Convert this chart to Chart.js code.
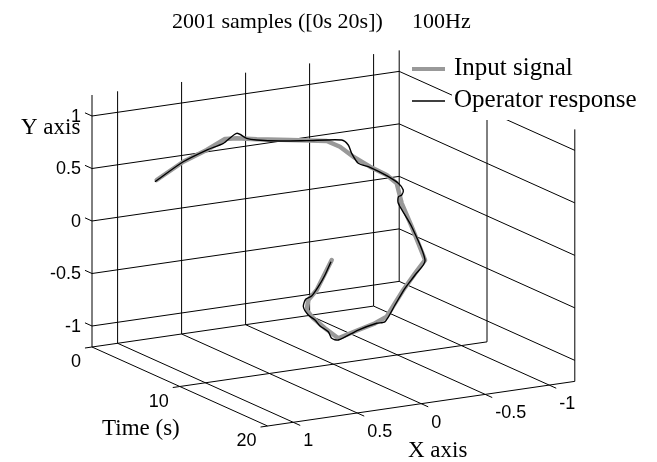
<!DOCTYPE html>
<html>
<head>
<meta charset="UTF-8" />
<title>2001 samples</title>
<script src="https://cdn.jsdelivr.net/npm/chart.js"></script>
<style>
  body { margin: 0; background: #ffffff; }
  canvas { display: block; }
</style>
</head>
<body>
<canvas id="myChart" width="657" height="462"></canvas>
<script>
// input signal: time (s), X, Y
const inT = [0, 0.8, 1.5, 2.0, 2.4, 3.0, 4.0, 5.0, 5.5, 6.0, 6.6, 7.1, 7.5, 8.0, 8.8, 10.0,
  10.7, 11.5, 12.1, 12.7, 13.3, 14.0, 15.0, 15.7, 16.4, 16.9, 17.5, 18.2, 19.0, 20.0];
const inX = [0.695, 0.542, 0.407, 0.298, 0.234, 0.119, -0.073, -0.291, -0.360, -0.430, -0.519, -0.615, -0.666, -0.671, -0.694, -0.716,
  -0.590, -0.443, -0.337, -0.231, -0.099, 0.080, 0.305, 0.457, 0.596, 0.682, 0.711, 0.693, 0.696, 0.699];
const inY = [0.301, 0.478, 0.592, 0.696, 0.707, 0.700, 0.697, 0.686, 0.638, 0.549, 0.461, 0.384, 0.311, 0.138, -0.059, -0.335,
  -0.413, -0.516, -0.601, -0.687, -0.704, -0.710, -0.711, -0.563, -0.417, -0.304, -0.181, -0.062, 0.095, 0.292];

// operator response
const outT = [0, 0.8, 1.5, 2.0, 2.4, 2.7, 3.0, 3.7, 4.4, 5.4, 5.7, 5.9, 6.2, 6.6, 7.1, 7.45, 7.65, 7.8, 7.85, 8.0,
  8.8, 10.0, 10.7, 11.4, 12.1, 12.8, 13.2, 14.0, 15.0, 15.3, 15.5, 15.9, 16.3, 16.7, 17.0, 17.4, 17.8, 18.4, 19.1, 20.0];
const outX = [0.708, 0.542, 0.407, 0.311, 0.234, 0.177, 0.119, -0.015, -0.176, -0.380, -0.411, -0.424, -0.455, -0.519, -0.615, -0.682, -0.707, -0.685, -0.655, -0.644,
  -0.694, -0.716, -0.590, -0.463, -0.337, -0.211, -0.119, 0.080, 0.305, 0.377, 0.417, 0.509, 0.576, 0.656, 0.715, 0.724, 0.705, 0.694, 0.690, 0.705];
const outY = [0.287, 0.478, 0.592, 0.658, 0.754, 0.708, 0.693, 0.686, 0.687, 0.695, 0.653, 0.579, 0.490, 0.455, 0.377, 0.306, 0.245, 0.207, 0.198, 0.143,
  -0.059, -0.341, -0.429, -0.507, -0.617, -0.728, -0.711, -0.710, -0.728, -0.687, -0.610, -0.524, -0.440, -0.363, -0.263, -0.175, -0.133, -0.023, 0.114, 0.277];

const timeTicks = [0, 10, 20];
const xTicks = [1, 0.5, 0, -0.5, -1];
const yTicks = [-1, -0.5, 0, 0.5, 1];
const timeTickLabels = ["0", "10", "20"];
const xTickLabels = ["1", "0.5", "0", "-0.5", "-1"];
const yTickLabels = ["-1", "-0.5", "0", "0.5", "1"];
const tLim = [0, 20], xLim = [-1.2, 1.2], yLim = [-1.2, 1.2];

// fixed camera: where corner (t=0, X=xmax, Y=ymin) lands, and screen step per unit of each axis
const view = { ox: 92, oy: 347, tx: 8.78, ty: 3.95, xx: -128, xy: 18.6, yy: -105 };

function proj(t, x, y) {
  const dx = x - xLim[1], dy = y - yLim[0];
  return { x: view.ox + view.tx * t + view.xx * dx,
           y: view.oy + view.ty * t + view.xy * dx + view.yy * dy };
}
const gap = { x: NaN, y: NaN };
function seg(list, a, b) { list.push(proj(...a), proj(...b), gap); }

const inPts = inT.map((t, i) => proj(t, inX[i], inY[i]));
const outPts = outT.map((t, i) => proj(t, outX[i], outY[i]));

const T0 = tLim[0], T1 = tLim[1], X0 = xLim[0], X1 = xLim[1], Y0 = yLim[0], Y1 = yLim[1];
const grid = [];
// back wall t = 0
xTicks.forEach(x => seg(grid, [T0, x, Y0], [T0, x, Y1]));
seg(grid, [T0, X1, Y0], [T0, X1, Y1]);
seg(grid, [T0, X0, yTicks[0]], [T0, X0, Y1]);
yTicks.forEach(y => seg(grid, [T0, X1, y], [T0, X0, y]));
// side wall X = xmin
yTicks.forEach(y => seg(grid, [T0, X0, y], [T1, X0, y]));
timeTicks.slice(1).forEach(t => seg(grid, [t, X0, Y0], [t, X0, Y1]));
// floor
[X1, ...xTicks].forEach(x => seg(grid, [T0, x, Y0], [T1, x, Y0]));
seg(grid, [T0, X1, Y0], [T0, xTicks[xTicks.length - 1], Y0]);
timeTicks.slice(1).forEach(t => seg(grid, [t, X1, Y0], [t, X0, Y0]));
// tick marks
yTicks.forEach(y => seg(grid, [T0, X1, y], [T0 - 0.8, X1, y]));
timeTicks.forEach(t => seg(grid, [t, X1, Y0], [t, X1 + 0.055, Y0]));
xTicks.forEach(x => seg(grid, [T1, x, Y0], [T1 + 0.8, x, Y0]));

const serif = "'Liberation Serif', 'Times New Roman', serif";
const sans = "'Liberation Sans', Arial, sans-serif";

const textPlugin = {
  id: "texts",
  afterDatasetsDraw(chart) {
    const ctx = chart.ctx;
    const sx = chart.scales.x, sy = chart.scales.y;
    const at = p => ({ x: sx.getPixelForValue(p.x), y: sy.getPixelForValue(p.y) });
    ctx.save();
    ctx.fillStyle = "#000";
    ctx.textBaseline = "alphabetic";

    // tick labels
    ctx.font = "18px " + sans;
    ctx.textAlign = "right";
    yTicks.forEach((y, i) => {
      const p = at(proj(T0, X1, y));
      ctx.fillText(yTickLabels[i], p.x - 11, p.y + 5.5);
    });
    timeTicks.forEach((t, i) => {
      const p = at(proj(t, X1, Y0));
      ctx.fillText(timeTickLabels[i], p.x - 11, p.y + 20);
    });
    ctx.textAlign = "left";
    xTicks.forEach((x, i) => {
      const p = at(proj(T1, x, Y0));
      ctx.fillText(xTickLabels[i], p.x + 10, p.y + 24);
    });

    // axis titles and title
    ctx.font = "23px " + serif;
    ctx.fillText("Y axis", 21, 134);
    ctx.fillText("Time (s)", 102, 435);
    ctx.fillText("X axis", 408, 457);
    ctx.font = "22px " + serif;
    ctx.fillText("2001 samples ([0s 20s])", 172, 28);
    ctx.fillText("100Hz", 412, 28);

    // legend
    ctx.font = "25px " + serif;
    const rows = [
      { text: "Input signal", color: "#999999", width: 4, y: 75 },
      { text: "Operator response", color: "#000", width: 1.5, y: 107 }
    ];
    rows.forEach(r => {
      const w = ctx.measureText(r.text).width;
      ctx.fillStyle = "#fff";
      ctx.fillRect(452, r.y - 20, w + 4, 33);
    });
    rows.forEach(r => {
      ctx.strokeStyle = r.color;
      ctx.lineWidth = r.width;
      ctx.beginPath();
      ctx.moveTo(412, r.y - 6);
      ctx.lineTo(445, r.y - 6);
      ctx.stroke();
      ctx.fillStyle = "#000";
      ctx.fillText(r.text, 454, r.y);
    });
    ctx.restore();
  }
};

new Chart(document.getElementById("myChart"), {
  type: "scatter",
  data: {
    datasets: [
      { label: "Operator response", data: outPts, showLine: true, borderColor: "#000", borderWidth: 1.4,
        pointRadius: 0, tension: 0.25, order: 0 },
      { label: "Input signal", data: inPts, showLine: true, borderColor: "#999999", borderWidth: 4.5,
        pointRadius: 0, borderJoinStyle: "round", borderCapStyle: "round", order: 1 },
      { label: "grid", data: grid, showLine: true, borderColor: "#000", borderWidth: 1,
        pointRadius: 0, spanGaps: false, order: 2 }
    ]
  },
  options: {
    responsive: false,
    animation: false,
    devicePixelRatio: 1,
    events: [],
    layout: { padding: 0 },
    scales: {
      x: { type: "linear", min: 0, max: 657, display: false },
      y: { type: "linear", min: 0, max: 462, reverse: true, display: false }
    },
    plugins: { legend: { display: false }, tooltip: { enabled: false } }
  },
  plugins: [textPlugin]
});
</script>
</body>
</html>
